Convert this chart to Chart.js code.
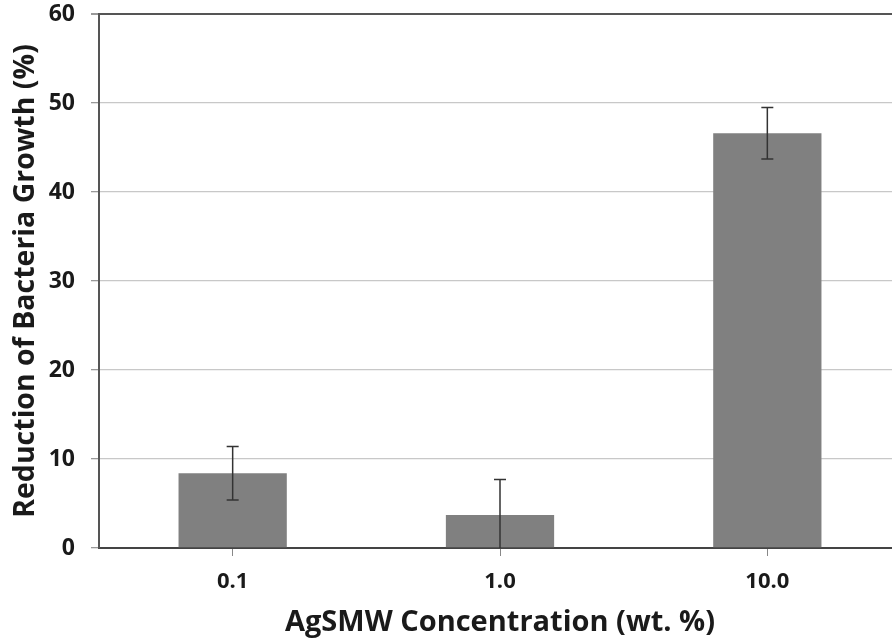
<!DOCTYPE html>
<html>
<head>
<meta charset="utf-8">
<script src="https://cdn.jsdelivr.net/npm/chart.js@4"></script>
<style>
html,body{margin:0;padding:0;background:#fff;overflow:hidden;}
#wrap{width:892px;height:644px;overflow:hidden;position:relative;}
canvas{display:block;}
</style>
</head>
<body>
<div id="wrap"><canvas id="c" width="901" height="644"></canvas></div>
<script>
const categories = ['0.1', '1.0', '10.0'];
const reduction = [8.4, 3.7, 46.6];
const errUpper = [3.0, 4.0, 2.9];
const errLower = [3.0, 3.7, 2.9];
const yTicks = [0, 10, 20, 30, 40, 50, 60];

const FONT = '"Open Sans", Lato, sans-serif';

const errorBars = {
  id: 'errorBars',
  afterDatasetsDraw(chart) {
    const ctx = chart.ctx;
    const y = chart.scales.y;
    const meta = chart.getDatasetMeta(0);
    ctx.save();
    ctx.strokeStyle = '#333';
    ctx.lineWidth = 1.5;
    meta.data.forEach((bar, i) => {
      const x = bar.x;
      const top = y.getPixelForValue(reduction[i] + errUpper[i]);
      const bot = y.getPixelForValue(Math.max(0, reduction[i] - errLower[i]));
      ctx.beginPath();
      ctx.moveTo(x, top); ctx.lineTo(x, bot);
      ctx.moveTo(x - 6, top); ctx.lineTo(x + 6, top);
      if (reduction[i] - errLower[i] > 0) {
        ctx.moveTo(x - 6, bot); ctx.lineTo(x + 6, bot);
      }
      ctx.stroke();
    });
    ctx.restore();
  }
};

new Chart(document.getElementById('c'), {
  type: 'bar',
  data: {
    labels: categories,
    datasets: [{
      data: reduction,
      backgroundColor: '#808080',
      borderWidth: 0,
      categoryPercentage: 1,
      barPercentage: 0.405
    }]
  },
  options: {
    responsive: false,
    animation: false,
    devicePixelRatio: 1,
    layout: { padding: { top: 14, right: 0, left: 0, bottom: 0 } },
    plugins: { legend: { display: false }, tooltip: { enabled: false } },
    scales: {
      x: {
        grid: { display: true, drawOnChartArea: false, drawTicks: true, tickLength: 8, offset: false, color: '#888', lineWidth: 1 },
        border: { display: true, color: '#444', width: 2 },
        ticks: { color: '#1a1a1a', font: { family: FONT, size: 22, weight: 'bold' }, padding: 13 },
        title: { display: true, text: 'AgSMW Concentration (wt. %)', color: '#1a1a1a', font: { family: FONT, size: 29, weight: 'bold' }, padding: { top: 0, bottom: 4 } },
        afterFit(s) { s.height = 96; s.paddingLeft = 0; s.paddingRight = 0; }
      },
      y: {
        min: 0, max: 60,
        afterBuildTicks(s) { s.ticks = yTicks.map(v => ({ value: v })); },
        grid: {
          color: c => (c.tick && c.tick.value === 60) ? '#555' : '#c8c8c8',
          lineWidth: c => (c.tick && c.tick.value === 60) ? 2 : 1.3,
          tickColor: '#999',
          tickLength: 8
        },
        border: { display: true, color: '#555', width: 2 },
        ticks: { color: '#1a1a1a', font: { family: FONT, size: 23, weight: 'bold' }, padding: 16 },
        title: { display: true, text: 'Reduction of Bacteria Growth (%)', color: '#1a1a1a', font: { family: FONT, size: 28.5, weight: 'bold' }, padding: { top: 9, bottom: 0 } },
        afterFit(s) { s.width = 99; s.paddingTop = 0; s.paddingBottom = 0; }
      }
    }
  },
  plugins: [errorBars]
});
</script>
</body>
</html>
